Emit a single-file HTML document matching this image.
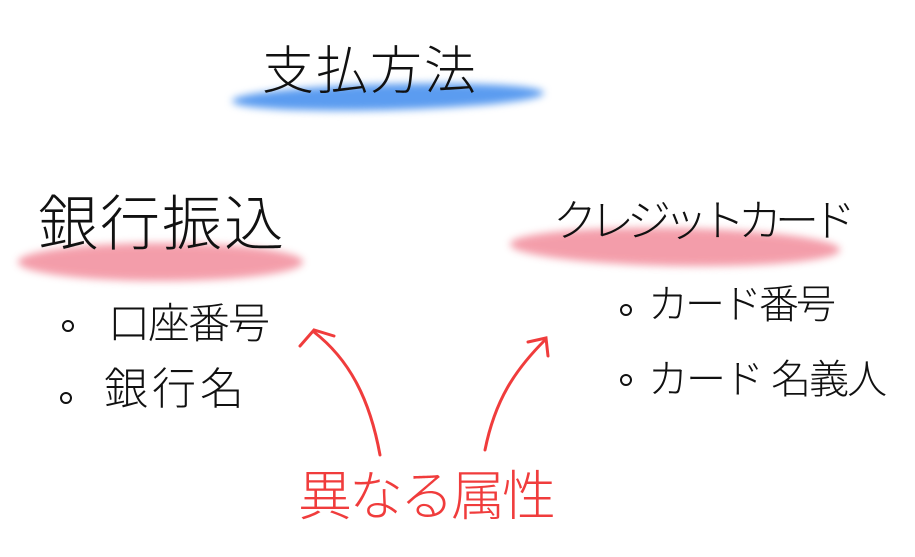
<!DOCTYPE html>
<html><head><meta charset="utf-8"><style>
html,body{margin:0;padding:0;background:#fff;}
body{width:915px;height:557px;position:relative;overflow:hidden;font-family:"Liberation Sans","Noto Sans CJK JP",sans-serif;color:#111;}
.t{position:absolute;white-space:nowrap;line-height:1;}
.hl{position:absolute;border-radius:50%;filter:blur(4px);}
.dot{position:absolute;width:8px;height:8px;border:2px solid #111;border-radius:50%;}
</style></head><body>
<div class="hl" style="left:232px;top:84px;width:312px;height:26px;background:#5b9cf0;transform:rotate(-1.5deg);"></div>
<div class="hl" style="left:18px;top:243px;width:285px;height:38px;background:#f28d9c;opacity:.85"></div>
<div class="hl" style="left:510px;top:228px;width:330px;height:38px;background:#f28d9c;opacity:.85;transform:rotate(1deg)"></div>

<div class="t" style="left:262px;top:46px;font-size:52px;letter-spacing:2px;font-weight:300">支払方法</div>
<div class="t" style="left:38px;top:195px;font-size:60px;letter-spacing:2px;font-weight:300">銀行振込</div>
<div class="t" style="left:553px;top:200px;font-size:44px;letter-spacing:-7px;font-weight:300">クレジットカード</div>

<div class="dot" style="left:62px;top:320px"></div>
<div class="t" style="left:108px;top:303px;font-size:42px;letter-spacing:-2px;font-weight:300">口座番号</div>
<div class="dot" style="left:60px;top:392px"></div>
<div class="t" style="left:104px;top:368px;font-size:44px;letter-spacing:4px;font-weight:300">銀行名</div>

<div class="dot" style="left:620px;top:304px"></div>
<div class="t" style="left:648px;top:285px;font-size:40px;letter-spacing:-3px;font-weight:300">カード番号</div>
<div class="dot" style="left:620px;top:374px"></div>
<div class="t" style="left:648px;top:360px;font-size:40px;letter-spacing:-2px;font-weight:300">カード 名義人</div>

<div class="t" style="left:298px;top:470px;font-size:54px;color:#f03c3c;letter-spacing:-3px;font-weight:300">異なる属性</div>

<svg width="915" height="557" style="position:absolute;left:0;top:0" fill="none" stroke="#f03c3c" stroke-width="3" stroke-linecap="round">
<path d="M380 455 C370 400 350 360 314 332"/>
<path d="M300 346 L314 330 L334 336"/>
<path d="M485 450 C495 400 515 370 545 340"/>
<path d="M528 342 L546 338 L548 356"/>
</svg>
</body></html>
